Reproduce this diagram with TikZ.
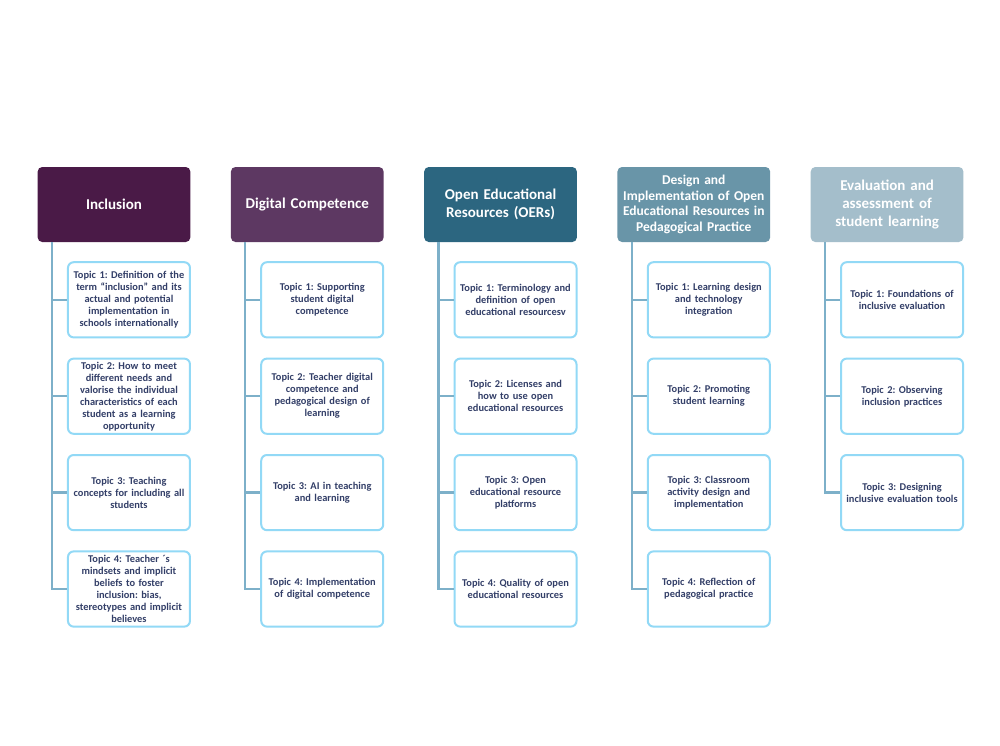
\documentclass[tikz,border=0pt]{standalone}
\usepackage{fontspec}
\setmainfont{Carlito}
\frenchspacing
\usetikzlibrary{positioning}
\definecolor{plum}{HTML}{4A1A47}
\definecolor{grape}{HTML}{5D3862}
\definecolor{teal}{HTML}{2C6680}
\definecolor{steel}{HTML}{6995A8}
\definecolor{mist}{HTML}{A4BECB}
\definecolor{sky}{HTML}{92D9F6}
\definecolor{stem}{HTML}{7DB0C9}
\definecolor{ink}{HTML}{333F68}

\begin{document}
\begin{tikzpicture}[x=1pt,y=-1pt,
  node distance=19.2pt and 40.2pt,
  head/.style={rounded corners=1.6mm,minimum width=152pt,minimum height=75pt,
               text width=146pt,align=center,text=white,
               font=\bfseries\fontsize{15}{17.7}\selectfont},
  topic/.style={draw=sky,line width=2pt,rounded corners=2mm,fill=white,
                minimum width=122pt,minimum height=75.2pt,text width=119pt,
                inner sep=1pt,align=center,text=ink,
                font=\bfseries\fontsize{10.4}{12}\selectfont},
  link/.style={draw=stem,line width=2.3pt}]
  \useasboundingbox[fill=white] (0,0) rectangle (1000,745);
  % column headers
  \node[head,fill=plum] (incl) at (114,204.5) {Inclusion};
  \node[head,fill=grape,right=of incl] (digi) {Digital Competence};
  \node[head,fill=teal,right=of digi] (oer) {Open Educational\\Resources (OERs)};
  \node[head,fill=steel,right=of oer,font=\bfseries\fontsize{13.5}{15.5}\selectfont] (design)
    {Design and\\Implementation of Open\\Educational Resources in\\Pedagogical Practice};
  \node[head,fill=mist,right=of design] (eval) {Evaluation and\\assessment of\\student learning};
  % Inclusion
  \node[topic,below right=19pt and 29.5pt of incl.south west] (incl1)
    {Topic 1: Definition of the\\term “inclusion” and its\\actual and potential\\implementation in\\schools internationally};
  \node[topic,below=of incl1] (incl2)
    {Topic 2: How to meet\\different needs and\\valorise the individual\\characteristics of each\\student as a learning\\opportunity};
  \node[topic,below=of incl2] (incl3) {Topic 3: Teaching\\concepts for including all\\students};
  \node[topic,below=of incl3] (incl4)
    {Topic 4: Teacher ´s\\mindsets and implicit\\beliefs to foster\\inclusion: bias,\\stereotypes and implicit\\believes};
  % Digital Competence
  \node[topic,below right=19pt and 29.5pt of digi.south west] (digi1) {Topic 1: Supporting\\student digital\\competence};
  \node[topic,below=of digi1] (digi2) {Topic 2: Teacher digital\\competence and\\pedagogical design of\\learning};
  \node[topic,below=of digi2] (digi3) {Topic 3: AI in teaching\\and learning};
  \node[topic,below=of digi3] (digi4) {Topic 4: Implementation\\of digital competence};
  % OERs
  \node[topic,below right=19pt and 29.5pt of oer.south west] (oer1)
    {Topic 1: Terminology and\\definition of open\\educational resourcesv};
  \node[topic,below=of oer1] (oer2) {Topic 2: Licenses and\\how to use open\\educational resources};
  \node[topic,below=of oer2] (oer3) {Topic 3: Open\\educational resource\\platforms};
  \node[topic,below=of oer3] (oer4) {Topic 4: Quality of open\\educational resources};
  % Design and implementation
  \node[topic,below right=19pt and 29.5pt of design.south west] (design1)
    {Topic 1: Learning design\\and technology\\integration};
  \node[topic,below=of design1] (design2) {Topic 2: Promoting\\student learning};
  \node[topic,below=of design2] (design3) {Topic 3: Classroom\\activity design and\\implementation};
  \node[topic,below=of design3] (design4) {Topic 4: Reflection of\\pedagogical practice};
  % Evaluation
  \node[topic,below right=19pt and 29.5pt of eval.south west] (eval1) {Topic 1: Foundations of\\inclusive evaluation};
  \node[topic,below=of eval1] (eval2) {Topic 2: Observing\\inclusion practices};
  \node[topic,below=of eval2] (eval3) {Topic 3: Designing\\inclusive evaluation tools};
  % spines
  \foreach \col/\last in {incl/4,digi/4,oer/4,design/4,eval/3} {
    \coordinate (\col s) at ([xshift=14.5pt]\col.south west);
    \foreach \k in {1,...,\last}
      \draw[link] (\col s) |- (\col\k.west);
  }
\end{tikzpicture}
\end{document}
